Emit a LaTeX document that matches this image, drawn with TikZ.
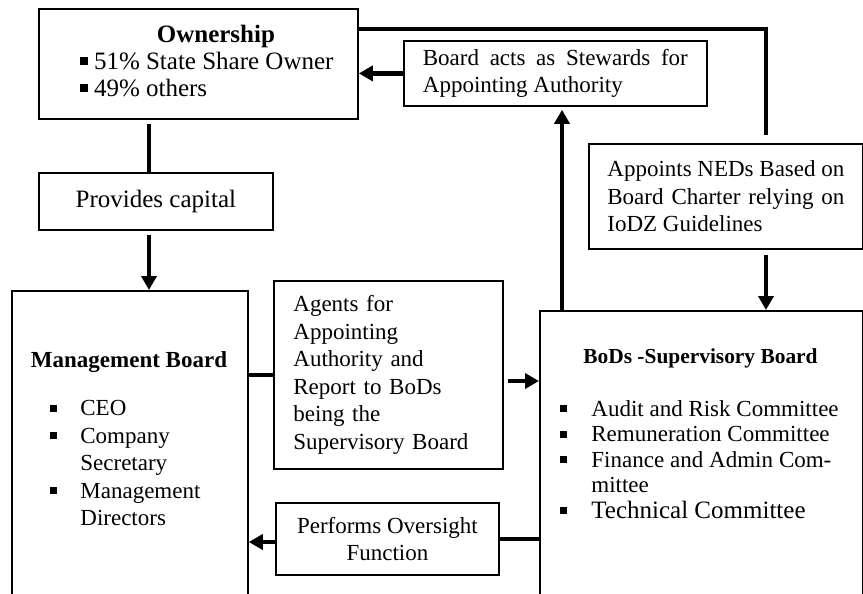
\documentclass[tikz,border=0pt]{standalone}
\usepackage{fontspec}
\setmainfont{Liberation Serif}
\usetikzlibrary{positioning,arrows.meta}

% small square bullet
\newcommand{\sqb}{\rule[0.18em]{0.3em}{0.3em}}

\begin{document}
\begin{tikzpicture}[x=0.5pt, y=-0.5pt,
		box/.style={draw, line width=0.9pt, anchor=north west, inner sep=0pt,
								align=center, font=\fontsize{11.5}{13.75}\selectfont},
		head/.style={font=\fontsize{11.5}{13.75}\selectfont\bfseries},
		items/.style={anchor=north west, inner sep=0pt, align=left},
		link/.style={line width=2.4pt},
		arrow/.style={link, -{Triangle[length=7pt,width=7.5pt]}},
	]
		\useasboundingbox (0,0) rectangle (863,594);
		\clip (0,0) rectangle (863,594);

		% owner side
		\node[box, minimum width=159.5pt, minimum height=55pt,
			font=\fontsize{12.5}{13.5}\selectfont] (own) at (38,8)
			{\begin{tabular}{@{\hspace{8.5pt}}l@{}}
				\multicolumn{1}{@{\hspace{8.5pt}}c@{}}{\hspace{9pt}\textbf{Ownership}}\\
				\sqb\ 51\% State Share Owner\\
				\sqb\ 49\% others
			\end{tabular}};
		\node[box, minimum width=151.5pt, minimum height=32.5pt] (stew) at (403,40)
			{\makebox[132.5pt][s]{Board acts as Stewards for}\\
			 \makebox[132.5pt][l]{Appointing Authority}};
		\node[box, minimum width=117pt, minimum height=28.5pt,
			font=\fontsize{12.5}{14}\selectfont] (cap) at (38,172) {Provides capital};
		\node[box, minimum width=137pt, minimum height=52.5pt] (appt) at (588,143)
			{\makebox[118.5pt][s]{Appoints NEDs Based on}\\
			 \makebox[118.5pt][s]{Board Charter relying on}\\
			 \makebox[118.5pt][l]{IoDZ Guidelines}};

		% Management Board
		\node[box, minimum width=118pt, minimum height=160pt] (mgmt) at (11,290) {};
		\node[head] (mgmt-head) at (129,362) {Management Board};
		\node[items, font=\fontsize{11.5}{13.75}\selectfont] (mgmt-list) at (50,396)
			{\begin{tabular}{@{}p{15pt}@{}l@{}}
				\sqb & CEO\\
				\sqb & Company\\
				     & Secretary\\
				\sqb & Management\\
				     & Directors
			\end{tabular}};

		% middle boxes
		\node[box, minimum width=114.5pt, minimum height=94pt, text width=95pt,
			align=left] (agents) at (273,280)
			{Agents for\\Appointing\\Authority and\\Report to BoDs\\being the\\Supervisory Board};
		\node[box, minimum width=111.5pt, minimum height=36pt] (perf) at (275,502)
			{Performs Oversight\\Function};

		% BoDs
		\node[box, minimum width=161.5pt, minimum height=150pt] (bod) at (539,310) {};
		\node[head, font=\fontsize{10.7}{13}\selectfont\bfseries] (bod-head) at (700.5,358)
			{BoDs -Supervisory Board};
		\node[items, font=\fontsize{11.5}{12.75}\selectfont] (bod-list) at (560,398)
			{\begin{tabular}{@{}p{15.5pt}@{}l@{}}
				\sqb & Audit and Risk Committee\\
				\sqb & Remuneration Committee\\
				\sqb & \makebox[120pt][s]{Finance and Admin Com-}\\
				     & mittee\\
				\sqb & {\fontsize{12.5}{14}\selectfont Technical Committee}
			\end{tabular}};

		% helper points
		\coordinate (trunk) at (149,150);
		\coordinate (corner) at (766,29);
		\coordinate (riser) at (562,200);
		\coordinate (rep) at (505,381);
		\coordinate (ovs) at (275,542);

		% connectors
		\draw[link, shorten <=2pt] (trunk |- own.south) -- (trunk |- cap.north);
		\draw[arrow, shorten <=2pt] (trunk |- cap.south) -- (trunk |- mgmt.north);
		\draw[arrow] (stew.west) -- (stew.west -| own.east);
		\draw[link, shorten >=4pt] (own.east |- corner) -- (corner) -- (corner |- appt.north);
		\draw[arrow, shorten <=2.5pt] (corner |- appt.south) -- (corner |- bod.north);
		\draw[arrow, shorten >=1.5pt] (riser |- bod.north) -- (riser |- stew.south);
		\draw[link] (mgmt.east |- agents.west) -- (agents.west);
		\draw[arrow, shorten <=1.5pt] (rep) -- (rep -| bod.west);
		\draw[link] (perf.east -| bod.west) -- (perf.east);
		\draw[arrow] (ovs) -- (ovs -| mgmt.east);
	\end{tikzpicture}
\end{document}
